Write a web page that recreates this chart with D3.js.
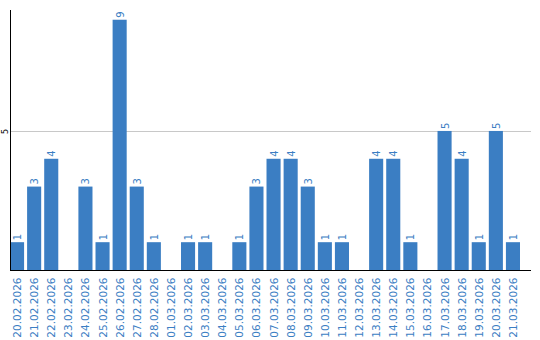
<!DOCTYPE html>
<html lang="en">
<head>
    <meta charset="UTF-8">
    <title>Daily counts</title>
    <style>
      body { margin: 0; background: #fff; }
      text { font-family: "DejaVu Sans", Verdana, sans-serif; }
    </style>
</head>
<body>
  <div id="graph-container"></div>
  <script src="https://d3js.org/d3.v7.min.js"></script>
  <script>
    // dates along the bottom and the count for each day
    const days = [
      "20.02.2026", "21.02.2026", "22.02.2026", "23.02.2026", "24.02.2026",
      "25.02.2026", "26.02.2026", "27.02.2026", "28.02.2026", "01.03.2026",
      "02.03.2026", "03.03.2026", "04.03.2026", "05.03.2026", "06.03.2026",
      "07.03.2026", "08.03.2026", "09.03.2026", "10.03.2026", "11.03.2026",
      "12.03.2026", "13.03.2026", "14.03.2026", "15.03.2026", "16.03.2026",
      "17.03.2026", "18.03.2026", "19.03.2026", "20.03.2026", "21.03.2026"
    ];
    const counts = [1, 3, 4, 0, 3, 1, 9, 3, 1, 0,
                    1, 1, 0, 1, 3, 4, 4, 3, 1, 1,
                    0, 4, 4, 1, 0, 5, 4, 1, 5, 1];
    const yTicks = [5];

    const width = 540, height = 340;
    const plot = { left: 10, right: 531, top: 10, bottom: 270 };
    const barBlue = "#3b7ec3";

    const svg = d3.select("#graph-container")
      .append("svg")
        .attr("width", width)
        .attr("height", height);

    const x = d3.scaleBand()
      .domain(days)
      .range([plot.left, plot.left + days.length * 17])
      .paddingInner(3 / 17)
      .paddingOuter(0)
      .align(0);

    // 9 sits at y=20, so the top of the axis is a bit above 9
    const y = d3.scaleLinear()
      .domain([0, 9.35])
      .range([plot.bottom, plot.top]);

    // grid line at 5
    svg.selectAll(".grid")
      .data(yTicks)
      .enter()
      .append("line")
        .attr("class", "grid")
        .attr("x1", plot.left)
        .attr("x2", plot.right)
        .attr("y1", d => Math.round(y(d)) + 0.5)
        .attr("y2", d => Math.round(y(d)) + 0.5)
        .attr("stroke", "#c8c8c8");

    const data = days.map((d, i) => ({ day: d, value: counts[i] }));

    svg.selectAll(".bar")
      .data(data.filter(d => d.value > 0))
      .enter()
      .append("rect")
        .attr("class", "bar")
        .attr("x", d => x(d.day))
        .attr("y", d => y(d.value))
        .attr("width", x.bandwidth())
        .attr("height", d => y(0) - y(d.value))
        .attr("fill", barBlue);

    // value labels, rotated, above each bar
    svg.selectAll(".val")
      .data(data.filter(d => d.value > 0))
      .enter()
      .append("text")
        .attr("class", "val")
        .attr("transform", d => `translate(${x(d.day) + x.bandwidth() / 2 + 4},${y(d.value) - 2}) rotate(-90)`)
        .attr("font-size", 10)
        .attr("fill", barBlue)
        .text(d => d.value);

    // y axis
    const yAxis = svg.append("g")
      .attr("transform", `translate(${plot.left + 0.5},0)`)
      .call(d3.axisLeft(y).tickValues(yTicks).tickSize(0).tickPadding(0));
    yAxis.select(".domain").attr("stroke", "#000").attr("d", `M0,${plot.top}V${plot.bottom}`);
    yAxis.selectAll(".tick text")
      .attr("transform", "rotate(-90)")
      .attr("x", 0)
      .attr("y", -3)
      .attr("dy", 0)
      .attr("text-anchor", "middle")
      .attr("font-size", 8)
      .attr("font-family", "DejaVu Sans, sans-serif")
      .attr("fill", "#000");

    // x axis with rotated date labels
    const xAxis = svg.append("g")
      .attr("transform", `translate(0,${plot.bottom + 0.5})`)
      .call(d3.axisBottom(x).tickSize(0).tickPadding(0));
    xAxis.select(".domain").attr("stroke", "#000").attr("d", `M${plot.left},0H${plot.right}`);
    xAxis.selectAll(".tick text")
      .attr("transform", "rotate(-90)")
      .attr("x", -7)
      .attr("y", 4)
      .attr("dy", 0)
      .attr("text-anchor", "end")
      .attr("font-size", 10.5)
      .attr("font-family", "DejaVu Sans, sans-serif")
      .attr("fill", barBlue);
  </script>
</body>
</html>
